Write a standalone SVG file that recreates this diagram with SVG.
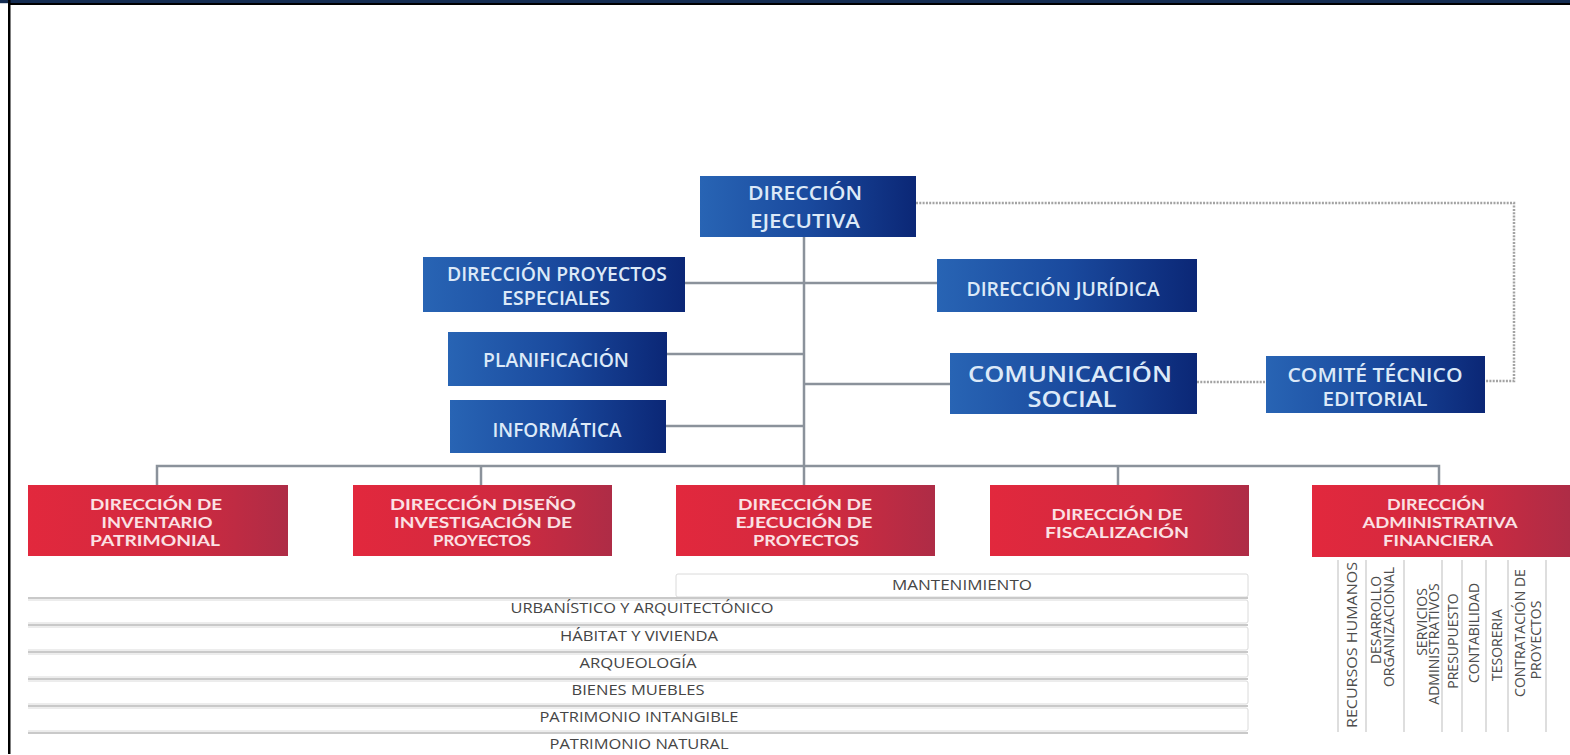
<svg xmlns="http://www.w3.org/2000/svg" width="1570" height="755" viewBox="0 0 1570 755">
<defs>
<linearGradient id="gb" x1="0" y1="0" x2="1" y2="0"><stop offset="0" stop-color="#2864b4"/><stop offset="0.5" stop-color="#1a4a9e"/><stop offset="1" stop-color="#0b2776"/></linearGradient>
<linearGradient id="gr" x1="0" y1="0" x2="1" y2="0"><stop offset="0" stop-color="#e2283d"/><stop offset="0.6" stop-color="#cf2a40"/><stop offset="1" stop-color="#ae2c46"/></linearGradient>
<style>
.b{fill:url(#gb)}
.r{fill:url(#gr)}
text{font-family:"Open Sans","Noto Sans",sans-serif;text-anchor:middle}
.bt{fill:#dce9f8;font-size:19px;font-weight:600}
.rt{font-family:Lato,"Open Sans",sans-serif;fill:#fbe1e4;font-size:15px;font-weight:700}
.lt{fill:#454545;font-size:14.5px}
.vt{fill:#4d4d4d;font-size:14px}
.row{fill:#fff;stroke:#dadada;stroke-width:1}
.sep{stroke:#c9c9c9;stroke-width:2;fill:none}
.col{stroke:#c8c8c8;stroke-width:1.2;fill:none}
</style>
</defs>
<rect x="0" y="0" width="1570" height="755" fill="#fff"/>
<g id="frame">
<rect x="0" y="0" width="1570" height="3.2" fill="#152d52"/>
<rect x="8" y="3" width="1562" height="2" fill="#000"/>
<rect x="8" y="0" width="2.5" height="754" fill="#000"/>
</g>
<g id="connectors">
<g stroke="#8b929b" stroke-width="2.5" fill="none">
<path d="M804 237V485"/>
<path d="M685 283H937"/>
<path d="M667 354H804"/>
<path d="M804 384H950"/>
<path d="M666 426H804"/>
<path d="M157 485V466H1439V485"/>
<path d="M481 466V485"/>
<path d="M1118 466V485"/>
</g>
<g stroke="#a3a3a3" stroke-width="2.5" fill="none" stroke-dasharray="2 1.3">
<path d="M916 203H1514V381H1485"/>
<path d="M1197 382H1266"/>
</g>
</g>
<g id="direccion-ejecutiva"><rect class="b" x="700" y="176" width="216" height="61"/>
<text class="bt" x="805" y="200" textLength="114" lengthAdjust="spacingAndGlyphs">DIRECCIÓN</text>
<text class="bt" x="805" y="228" textLength="110" lengthAdjust="spacingAndGlyphs">EJECUTIVA</text></g>
<g id="proyectos-especiales"><rect class="b" x="423" y="257" width="262" height="55"/>
<text class="bt" x="557" y="281" textLength="220" lengthAdjust="spacingAndGlyphs">DIRECCIÓN PROYECTOS</text>
<text class="bt" x="556" y="305" textLength="108" lengthAdjust="spacingAndGlyphs">ESPECIALES</text></g>
<g id="planificacion"><rect class="b" x="448" y="332" width="219" height="54"/>
<text class="bt" x="556" y="367" textLength="146" lengthAdjust="spacingAndGlyphs">PLANIFICACIÓN</text></g>
<g id="informatica"><rect class="b" x="450" y="400" width="216" height="53"/>
<text class="bt" x="557" y="437" textLength="129" lengthAdjust="spacingAndGlyphs">INFORMÁTICA</text></g>
<g id="juridica"><rect class="b" x="937" y="259" width="260" height="53"/>
<text class="bt" x="1063" y="296" textLength="193" lengthAdjust="spacingAndGlyphs">DIRECCIÓN JURÍDICA</text></g>
<g id="comunicacion-social"><rect class="b" x="950" y="353" width="247" height="61"/>
<text class="bt" x="1070" y="382" style="font-size:21px" textLength="204" lengthAdjust="spacingAndGlyphs">COMUNICACIÓN</text>
<text class="bt" x="1072" y="407" style="font-size:21px" textLength="89" lengthAdjust="spacingAndGlyphs">SOCIAL</text></g>
<g id="comite-tecnico-editorial"><rect class="b" x="1266" y="356" width="219" height="57"/>
<text class="bt" x="1375" y="382" textLength="175" lengthAdjust="spacingAndGlyphs">COMITÉ TÉCNICO</text>
<text class="bt" x="1375" y="406" textLength="105" lengthAdjust="spacingAndGlyphs">EDITORIAL</text></g>
<g id="inventario-patrimonial"><rect class="r" x="28" y="485" width="260" height="71"/>
<text class="rt" x="156" y="510" textLength="132" lengthAdjust="spacingAndGlyphs">DIRECCIÓN DE</text>
<text class="rt" x="157" y="528" textLength="111" lengthAdjust="spacingAndGlyphs">INVENTARIO</text>
<text class="rt" x="155" y="546" textLength="130" lengthAdjust="spacingAndGlyphs">PATRIMONIAL</text></g>
<g id="diseno-investigacion"><rect class="r" x="353" y="485" width="259" height="71"/>
<text class="rt" x="483" y="510" textLength="186" lengthAdjust="spacingAndGlyphs">DIRECCIÓN DISEÑO</text>
<text class="rt" x="483" y="528" textLength="178" lengthAdjust="spacingAndGlyphs">INVESTIGACIÓN DE</text>
<text class="rt" x="482" y="546" textLength="98" lengthAdjust="spacingAndGlyphs">PROYECTOS</text></g>
<g id="ejecucion-proyectos"><rect class="r" x="676" y="485" width="259" height="71"/>
<text class="rt" x="805" y="510" textLength="134" lengthAdjust="spacingAndGlyphs">DIRECCIÓN DE</text>
<text class="rt" x="804" y="528" textLength="137" lengthAdjust="spacingAndGlyphs">EJECUCIÓN DE</text>
<text class="rt" x="806" y="546" textLength="106" lengthAdjust="spacingAndGlyphs">PROYECTOS</text></g>
<g id="fiscalizacion"><rect class="r" x="990" y="485" width="259" height="71"/>
<text class="rt" x="1117" y="520" textLength="131" lengthAdjust="spacingAndGlyphs">DIRECCIÓN DE</text>
<text class="rt" x="1117" y="538" textLength="144" lengthAdjust="spacingAndGlyphs">FISCALIZACIÓN</text></g>
<g id="administrativa-financiera"><rect class="r" x="1312" y="485" width="258" height="72"/>
<text class="rt" x="1436" y="510" textLength="98" lengthAdjust="spacingAndGlyphs">DIRECCIÓN</text>
<text class="rt" x="1440" y="528" textLength="155" lengthAdjust="spacingAndGlyphs">ADMINISTRATIVA</text>
<text class="rt" x="1438" y="546" textLength="110" lengthAdjust="spacingAndGlyphs">FINANCIERA</text></g>
<g id="areas">
<rect class="row" x="676" y="574" width="572" height="23" rx="2"/>
<path class="sep" d="M28 598H1248"/>
<path class="row" d="M28 600H1246Q1248 600 1248 602V621Q1248 623 1246 623H28"/>
<path class="sep" d="M28 625H1248"/>
<path class="row" d="M28 627H1246Q1248 627 1248 629V648Q1248 650 1246 650H28"/>
<path class="sep" d="M28 652H1248"/>
<path class="row" d="M28 654H1246Q1248 654 1248 656V675Q1248 677 1246 677H28"/>
<path class="sep" d="M28 679H1248"/>
<path class="row" d="M28 681H1246Q1248 681 1248 683V702Q1248 704 1246 704H28"/>
<path class="sep" d="M28 706H1248"/>
<path class="row" d="M28 708H1246Q1248 708 1248 710V729Q1248 731 1246 731H28"/>
<path class="sep" d="M28 733H1248"/>
<text class="lt" x="962" y="590" textLength="140" lengthAdjust="spacingAndGlyphs">MANTENIMIENTO</text>
<text class="lt" x="642" y="613" textLength="263" lengthAdjust="spacingAndGlyphs">URBANÍSTICO Y ARQUITECTÓNICO</text>
<text class="lt" x="639" y="641" textLength="158" lengthAdjust="spacingAndGlyphs">HÁBITAT Y VIVIENDA</text>
<text class="lt" x="638" y="668" textLength="117" lengthAdjust="spacingAndGlyphs">ARQUEOLOGÍA</text>
<text class="lt" x="638" y="695" textLength="133" lengthAdjust="spacingAndGlyphs">BIENES MUEBLES</text>
<text class="lt" x="639" y="722" textLength="199" lengthAdjust="spacingAndGlyphs">PATRIMONIO INTANGIBLE</text>
<text class="lt" x="639" y="749" textLength="179" lengthAdjust="spacingAndGlyphs">PATRIMONIO NATURAL</text>
</g>
<g id="admin-units">
<path class="col" d="M1338 560V732M1366 560V732M1404 560V732M1442 560V732M1462 560V732M1486 560V732M1508 560V732M1546 560V732"/>
<text class="vt" transform="translate(1357 645) rotate(-90)" textLength="166" lengthAdjust="spacingAndGlyphs">RECURSOS HUMANOS</text>
<text class="vt" transform="translate(1381 620) rotate(-90)">DESARROLLO</text>
<text class="vt" transform="translate(1394 627) rotate(-90)">ORGANIZACIONAL</text>
<text class="vt" transform="translate(1427 622) rotate(-90)">SERVICIOS</text>
<text class="vt" transform="translate(1439 644) rotate(-90)">ADMINISTRATIVOS</text>
<text class="vt" transform="translate(1458 641) rotate(-90)">PRESUPUESTO</text>
<text class="vt" transform="translate(1479 633) rotate(-90)">CONTABILIDAD</text>
<text class="vt" transform="translate(1502 645) rotate(-90)">TESORERIA</text>
<text class="vt" transform="translate(1525 633) rotate(-90)">CONTRATACIÓN DE</text>
<text class="vt" transform="translate(1541 640) rotate(-90)">PROYECTOS</text>
</g>
</svg>
